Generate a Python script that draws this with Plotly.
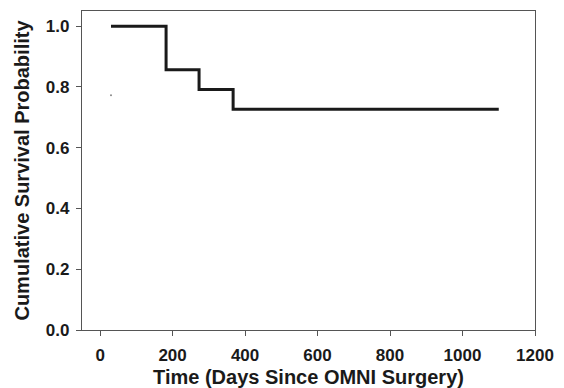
import plotly.graph_objects as go

# Kaplan-Meier step data (event times in days, survival after each step)
step_times = [30, 182, 273, 367, 1100]
step_surv = [1.0, 0.857, 0.792, 0.727, 0.727]

# stray point visible in the figure
dot_x = [30]
dot_y = [0.773]

x_ticks = [0, 200, 400, 600, 800, 1000, 1200]
y_ticks = [0.0, 0.2, 0.4, 0.6, 0.8, 1.0]

FONT = "Liberation Sans, Arial, Helvetica, sans-serif"
AX = "#555555"

fig = go.Figure()
fig.add_trace(go.Scatter(
    x=step_times, y=step_surv, mode="lines",
    line=dict(shape="hv", color="#1a1a1a", width=3),
    showlegend=False, hoverinfo="skip",
))
fig.add_trace(go.Scatter(
    x=dot_x, y=dot_y, mode="markers",
    marker=dict(size=2, color="#888888"),
    showlegend=False, hoverinfo="skip",
))

# page body has an 8px default margin, so the figure is sized to fit the window
fig.update_layout(
    width=556, height=380,
    margin=dict(l=74, r=29, t=3, b=58),
    paper_bgcolor="white", plot_bgcolor="white",
    font=dict(family=FONT, color="#1a1a1a"),
)
fig.update_xaxes(
    range=[-50, 1200], tickvals=x_ticks,
    ticktext=[str(v) for v in x_ticks],
    automargin=False,
    showgrid=False, zeroline=False,
    showline=True, linecolor=AX, linewidth=1.3, mirror=True,
    ticks="outside", ticklen=5, tickcolor=AX, tickwidth=1.3,
    ticklabelstandoff=4,
    tickfont=dict(size=17, family=FONT, weight="bold", color="#1a1a1a"),
    title=dict(text="Time (Days Since OMNI Surgery)", standoff=6,
               font=dict(size=20, family=FONT, weight="bold", color="#1a1a1a")),
)
fig.update_yaxes(
    range=[0, 1.05], tickvals=y_ticks,
    ticktext=[f"{v:.1f}" for v in y_ticks],
    automargin=False,
    showgrid=False, zeroline=False,
    showline=True, linecolor=AX, linewidth=1.3, mirror=True,
    ticks="outside", ticklen=5, tickcolor=AX, tickwidth=1.3,
    ticklabelstandoff=3,
    tickfont=dict(size=17, family=FONT, weight="bold", color="#1a1a1a"),
    title=dict(text="Cumulative Survival Probability", standoff=10,
               font=dict(size=20, family=FONT, weight="bold", color="#1a1a1a")),
)

fig.write_html("out.html")
